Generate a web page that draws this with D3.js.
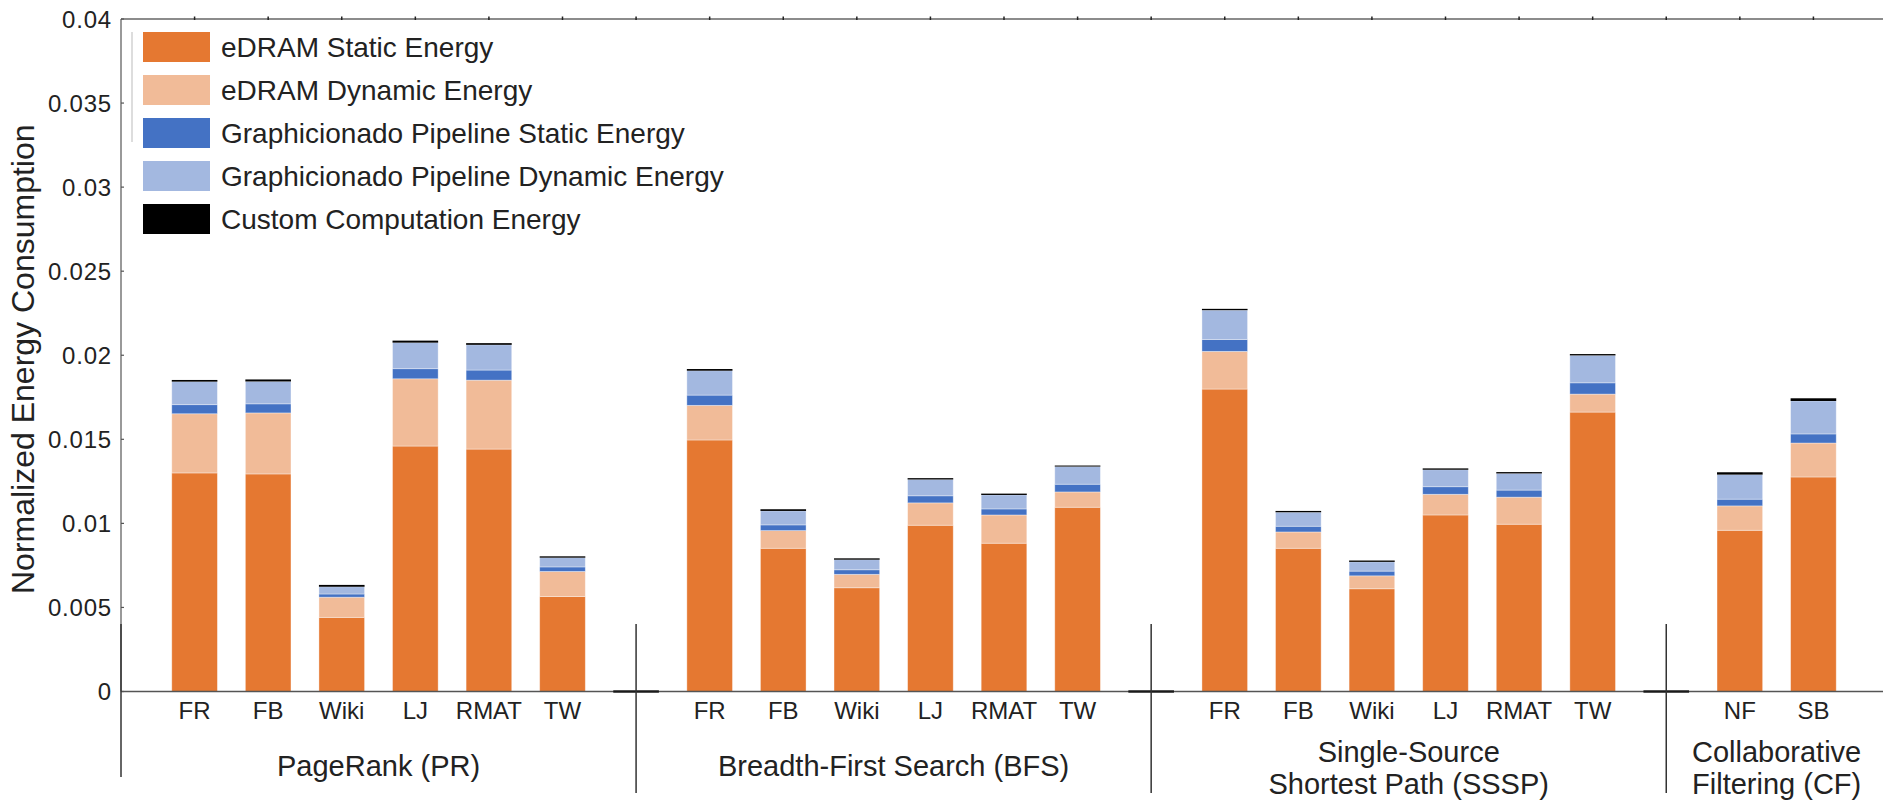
<!DOCTYPE html>
<html>
<head>
<meta charset="utf-8">
<script src="https://cdn.jsdelivr.net/npm/d3@7"></script>
<style>
  body { margin: 0; background: #fff; }
  text { font-family: "Liberation Sans", Arial, sans-serif; fill: #222; }
</style>
</head>
<body>
<div id="chart"></div>
<script>
// legend / series names
var seriesNames = [
  "eDRAM Static Energy",
  "eDRAM Dynamic Energy",
  "Graphicionado Pipeline Static Energy",
  "Graphicionado Pipeline Dynamic Energy",
  "Custom Computation Energy"
];
var seriesColors = ["#E57831", "#F1BB98", "#4472C4", "#A3B8E0", "#000000"];

// x categories, per algorithm group
var groupLabels = [
  ["PageRank (PR)"],
  ["Breadth-First Search (BFS)"],
  ["Single-Source", "Shortest Path (SSSP)"],
  ["Collaborative", "Filtering (CF)"]
];
var graphLabels = [
  ["FR", "FB", "Wiki", "LJ", "RMAT", "TW"],
  ["FR", "FB", "Wiki", "LJ", "RMAT", "TW"],
  ["FR", "FB", "Wiki", "LJ", "RMAT", "TW"],
  ["NF", "SB"]
];

// values, in the same order as the graph labels above (PR, BFS, SSSP, CF)
var edramStatic = [
  0.0130, 0.01294, 0.00441, 0.0146, 0.01442, 0.00565,
  0.01496, 0.00852, 0.00617, 0.00989, 0.00882, 0.01096,
  0.01799, 0.00852, 0.00611, 0.0105, 0.00995, 0.01662,
  0.00959, 0.01276
];
var edramDynamic = [
  0.00352, 0.00363, 0.0012, 0.0040, 0.0041, 0.00149,
  0.00206, 0.00105, 0.0008, 0.00133, 0.00168, 0.00091,
  0.00224, 0.00097, 0.00077, 0.00123, 0.00161, 0.00107,
  0.00145, 0.00202
];
var pipeStatic = [
  0.00054, 0.00054, 0.00019, 0.0006, 0.0006, 0.00027,
  0.00061, 0.00034, 0.00027, 0.00042, 0.00036, 0.00046,
  0.00071, 0.00034, 0.00028, 0.00045, 0.00042, 0.00067,
  0.0004, 0.00054
];
var pipeDynamic = [
  0.00137, 0.00133, 0.00043, 0.00155, 0.0015, 0.00055,
  0.00145, 0.00083, 0.0006, 0.00097, 0.00083, 0.00105,
  0.00174, 0.00083, 0.00055, 0.00101, 0.00099, 0.00163,
  0.00146, 0.00196
];
var customComp = [
  0.0001, 0.00012, 0.00011, 0.00012, 0.0001, 0.00008,
  0.0001, 0.0001, 0.00008, 0.00008, 0.00008, 0.00006,
  0.00008, 0.00008, 0.00008, 0.00008, 0.00008, 0.00008,
  0.00014, 0.00016
];
var yTicks = [0, 0.005, 0.01, 0.015, 0.02, 0.025, 0.03, 0.035, 0.04];

var svgWidth = 1883;
var svgHeight = 811;

var svg = d3.select("#chart")
  .append("svg")
  .attr("width", svgWidth)
  .attr("height", svgHeight);

// build the category list, with an empty slot between groups
var rows = [];
var gaps = [];
var n = 0;
graphLabels.forEach(function (labels, g) {
  labels.forEach(function (lab) {
    var i = n++;
    rows.push({
      key: g + "-" + lab,
      label: lab,
      group: g,
      s0: edramStatic[i],
      s1: edramDynamic[i],
      s2: pipeStatic[i],
      s3: pipeDynamic[i],
      s4: customComp[i]
    });
  });
  if (g < graphLabels.length - 1) {
    var gk = "gap-" + g;
    gaps.push(gk);
    rows.push({ key: gk, label: "", group: g, gap: true, s0: 0, s1: 0, s2: 0, s3: 0, s4: 0 });
  }
});

var left = 121;
var x = d3.scaleBand()
  .domain(rows.map(d => d.key))
  .range([left, 1887])
  .paddingInner(0.38)
  .paddingOuter(0.69);

var y = d3.scaleLinear()
  .domain([0, 0.04])
  .range([691.5, 19]);

var keys = ["s0", "s1", "s2", "s3", "s4"];
var stacked = d3.stack().keys(keys)(rows.filter(d => !d.gap));

// bars
var layers = svg.append("g").selectAll("g")
  .data(stacked)
  .enter()
  .append("g")
  .attr("fill", (d, i) => seriesColors[i]);

layers.selectAll("rect")
  .data(d => d)
  .enter()
  .append("rect")
  .attr("x", d => x(d.data.key))
  .attr("width", x.bandwidth())
  .attr("y", d => y(d[1]))
  .attr("height", d => y(d[0]) - y(d[1]))
  .attr("stroke", function () {
    return this.parentNode.__data__.key === "s4" ? "none" : "rgba(255,255,255,0.45)";
  })
  .attr("stroke-width", 0.8);

// top frame line with small ticks
svg.append("line")
  .attr("x1", left).attr("x2", svgWidth)
  .attr("y1", y(0.04)).attr("y2", y(0.04))
  .attr("stroke", "#666").attr("stroke-width", 1.5);

svg.append("g").selectAll("line")
  .data(rows)
  .enter()
  .append("line")
  .attr("x1", d => x(d.key) + x.bandwidth() / 2)
  .attr("x2", d => x(d.key) + x.bandwidth() / 2)
  .attr("y1", y(0.04) - 2.5)
  .attr("y2", y(0.04) + 1)
  .attr("stroke", "#222").attr("stroke-width", 1.5);

// y axis
svg.append("line")
  .attr("x1", left).attr("x2", left)
  .attr("y1", y(0.04)).attr("y2", y(0))
  .attr("stroke", "#555").attr("stroke-width", 1.2);

var yAxisG = svg.append("g");
yAxisG.selectAll("line")
  .data(yTicks)
  .enter()
  .append("line")
  .attr("x1", left).attr("x2", left + 3)
  .attr("y1", d => y(d)).attr("y2", d => y(d))
  .attr("stroke", "#555").attr("stroke-width", 1.2);

yAxisG.selectAll("text")
  .data(yTicks)
  .enter()
  .append("text")
  .attr("x", left - 9)
  .attr("y", d => y(d))
  .attr("dy", "0.36em")
  .attr("text-anchor", "end")
  .attr("font-size", 24)
  .attr("letter-spacing", 0.8)
  .text(d => d === 0 ? "0" : String(+d.toFixed(3)));

svg.append("text")
  .attr("transform", `translate(34, ${(y(0) + y(0.04)) / 2 + 4}) rotate(-90)`)
  .attr("text-anchor", "middle")
  .attr("font-size", 32)
  .text("Normalized Energy Consumption");

// baseline
svg.append("line")
  .attr("x1", left).attr("x2", svgWidth)
  .attr("y1", y(0)).attr("y2", y(0))
  .attr("stroke", "#555").attr("stroke-width", 1.5);

// empty slots between groups: dark stub on the baseline
svg.append("g").selectAll("rect")
  .data(gaps)
  .enter()
  .append("rect")
  .attr("x", d => x(d))
  .attr("width", x.bandwidth())
  .attr("y", y(0) - 1.2)
  .attr("height", 2.4)
  .attr("fill", "#1a1a1a");

// group separators
var sepX = [left].concat(gaps.map(d => x(d) + x.bandwidth() / 2));
svg.append("g").selectAll("line")
  .data(sepX)
  .enter()
  .append("line")
  .attr("x1", d => d).attr("x2", d => d)
  .attr("y1", 624)
  .attr("y2", (d, i) => i === 0 ? 777 : 793)
  .attr("stroke", "#333").attr("stroke-width", 1.5);

// graph labels
svg.append("g").selectAll("text")
  .data(rows.filter(d => !d.gap))
  .enter()
  .append("text")
  .attr("x", d => x(d.key) + x.bandwidth() / 2)
  .attr("y", 719)
  .attr("text-anchor", "middle")
  .attr("font-size", 24)
  .text(d => d.label);

// group labels
var groupEdges = sepX.concat([1887]);
groupLabels.forEach(function (lines, g) {
  var cx = (groupEdges[g] + groupEdges[g + 1]) / 2;
  var t = svg.append("text")
    .attr("text-anchor", "middle")
    .attr("font-size", 29);
  lines.forEach(function (line, k) {
    var base = lines.length === 1 ? 776 : 762 + k * 32;
    t.append("tspan").attr("x", cx).attr("y", base).text(line);
  });
});

// legend
var legend = svg.append("g");
legend.append("line")
  .attr("x1", 132).attr("x2", 132)
  .attr("y1", 32).attr("y2", 142)
  .attr("stroke", "#bbb").attr("stroke-width", 1);

var legendRows = legend.selectAll("g")
  .data(seriesNames)
  .enter()
  .append("g")
  .attr("transform", (d, i) => `translate(143, ${32 + i * 43})`);

legendRows.append("rect")
  .attr("width", 67)
  .attr("height", 30)
  .attr("fill", (d, i) => seriesColors[i]);

legendRows.append("text")
  .attr("x", 78)
  .attr("y", 25)
  .attr("font-size", 28)
  .text(d => d);
</script>
</body>
</html>
